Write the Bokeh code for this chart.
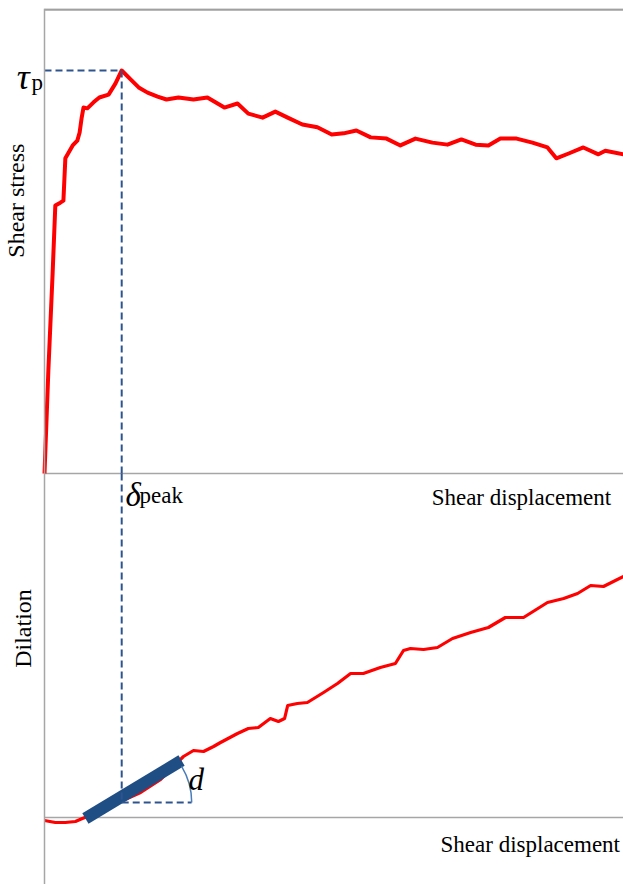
import math
from bokeh.plotting import figure
from bokeh.models import Range1d, Span, Label
from bokeh.embed import file_html
from bokeh.resources import INLINE

# ---- data (normalised units) ----
disp_stress = [0.0, 0.10, 0.21, 0.28, 0.41, 0.49, 0.54, 0.73, 0.85, 0.91, 0.96, 1.01, 1.11,
               1.27, 1.42, 1.66, 1.84, 2.00, 2.23, 2.44, 2.67, 2.93, 3.16, 3.47, 3.86, 4.22,
               4.66, 5.00, 5.28, 5.65, 5.98, 6.30, 6.68, 7.07, 7.44, 7.75, 8.08, 8.45, 8.86,
               9.22, 9.61, 10.05, 10.44, 10.80, 11.17, 11.50, 11.81, 12.23, 12.64, 13.03,
               13.26, 13.58, 13.96, 14.35, 14.53, 15.0]
shear_stress = [0.0, 0.256, 0.496, 0.665, 0.672, 0.677, 0.782, 0.814, 0.826, 0.846, 0.881,
                0.908, 0.906, 0.921, 0.933, 0.940, 0.968, 1.0, 0.978, 0.958, 0.945, 0.935,
                0.928, 0.933, 0.928, 0.933, 0.908, 0.918, 0.893, 0.883, 0.898, 0.883, 0.866,
                0.859, 0.841, 0.844, 0.851, 0.834, 0.831, 0.814, 0.831, 0.821, 0.816, 0.829,
                0.816, 0.814, 0.831, 0.831, 0.821, 0.809, 0.782, 0.794, 0.809, 0.792, 0.801,
                0.792]

disp_dil = [0.0, 0.28, 0.54, 0.80, 0.98, 1.45, 1.97, 2.49, 3.01, 3.39, 3.60, 3.86, 4.12,
            4.38, 4.56, 5.00, 5.28, 5.54, 5.85, 6.06, 6.22, 6.30, 6.55, 6.81, 7.23, 7.59,
            7.93, 8.26, 8.70, 9.09, 9.30, 9.48, 9.82, 10.18, 10.57, 11.04, 11.50, 11.94,
            12.41, 13.03, 13.45, 13.81, 14.15, 14.48, 15.0]
dilation = [-0.03, -0.05, -0.05, -0.04, -0.01, 0.06, 0.16, 0.25, 0.38, 0.53, 0.61, 0.67,
            0.66, 0.71, 0.75, 0.84, 0.89, 0.90, 0.99, 0.96, 0.99, 1.12, 1.14, 1.15, 1.25,
            1.34, 1.44, 1.44, 1.50, 1.54, 1.67, 1.69, 1.68, 1.70, 1.79, 1.85, 1.90, 2.00,
            2.00, 2.15, 2.19, 2.24, 2.32, 2.31, 2.41]

delta_peak = 2.0
tau_peak = 1.0
dil_at_peak = 0.15
tangent_x = [1.06, 3.55]
tangent_y = [-0.01, 0.57]
angle_ref_end = 3.81

label_font = "Liberation Serif"

W, H = 623, 884
MT = 8
x_lo, x_hi = -1.140, 15.0
s_lo, s_hi = -1.0199, 1.1538
d_lo, d_hi = -0.67, 8.09

p = figure(width=W, height=H, x_range=Range1d(x_lo, x_hi), y_range=Range1d(s_lo, s_hi),
           output_backend="svg", toolbar_location=None, x_axis_location=None,
           y_axis_location=None, min_border_left=0, min_border_right=0,
           min_border_top=MT, min_border_bottom=0)
p.extra_y_ranges = {"dil": Range1d(d_lo, d_hi)}
p.grid.visible = False
p.outline_line_color = None
p.background_fill_color = "white"
p.border_fill_color = "white"

# frame lines: left axis line, top line and zero lines (rays start at the origin)
p.add_layout(Span(location=0, dimension="height", line_color="#A6A6A6", line_width=1.5))
p.ray(x=[0], y=[s_hi - 1.0 / 403], length=0, angle=0, line_color="#A0A0A0", line_width=2.5)
p.ray(x=[0], y=[0], length=0, angle=0, line_color="#A6A6A6", line_width=1.5)
p.ray(x=[0], y=[0], length=0, angle=0, y_range_name="dil", line_color="#A6A6A6", line_width=1.5)

# curves
p.line(disp_stress, shear_stress, line_color="#FF0000", line_width=4, line_join="round")
p.line(disp_dil, dilation, y_range_name="dil", line_color="#FF0000", line_width=3.2, line_join="round")

# tangent bar
p.line(tangent_x, tangent_y, y_range_name="dil", line_color="#1F4E85", line_width=12, line_cap="butt")

# dashed guides
dash_col = "#2E5490"
dw = 2
p.line([0, delta_peak], [tau_peak, tau_peak], line_color=dash_col, line_width=dw, line_dash="7 4")
p.line([delta_peak, delta_peak], [tau_peak, 0], line_color=dash_col, line_width=dw, line_dash="7 4")
frac0 = (0 - s_lo) / (s_hi - s_lo)
dil_at_s0 = d_lo + frac0 * (d_hi - d_lo)
p.line([delta_peak, delta_peak], [dil_at_s0, dil_at_peak], y_range_name="dil",
       line_color=dash_col, line_width=dw, line_dash="7 4")
p.line([delta_peak, angle_ref_end], [dil_at_peak, dil_at_peak], y_range_name="dil",
       line_color=dash_col, line_width=dw, line_dash="7 4")

# angle arc
px_x = W / (x_hi - x_lo)
px_d = (H - MT) / (d_hi - d_lo)
ang = math.atan2((tangent_y[1] - tangent_y[0]) * px_d, (tangent_x[1] - tangent_x[0]) * px_x)
p.arc(x=[delta_peak], y=[dil_at_peak], radius=70, radius_units="screen", start_angle=0,
      end_angle=ang, y_range_name="dil", line_color="#4A7EBB", line_width=1.5)

# labels
def lab(x, y, text, size, style="normal", rng="default", angle=0, align="left"):
    p.add_layout(Label(x=x, y=y, text=text, text_font=label_font, text_font_size=size,
                       text_font_style=style, y_range_name=rng, angle=angle,
                       text_align=align, text_baseline="alphabetic", text_color="black"))

lab(-0.72, 0.985, "τ", "36px", "italic")
lab(-0.34, 0.970, "p", "23px")
lab(-0.751, 0.677, "Shear stress", "24px", angle=math.pi / 2, align="center")
lab(2.10, 3.23, "δ", "33px", "italic", rng="dil")
lab(2.46, 3.22, "peak", "23px", rng="dil")
lab(10.03, 3.20, "Shear displacement", "23px", rng="dil")
lab(3.73, 0.38, "d", "31px", "italic", rng="dil")
lab(-0.565, 1.89, "Dilation", "24px", rng="dil", angle=math.pi / 2, align="center")
lab(10.26, -0.27, "Shear displacement", "23px", rng="dil")

open("out.html", "w").write(file_html(p, INLINE))
